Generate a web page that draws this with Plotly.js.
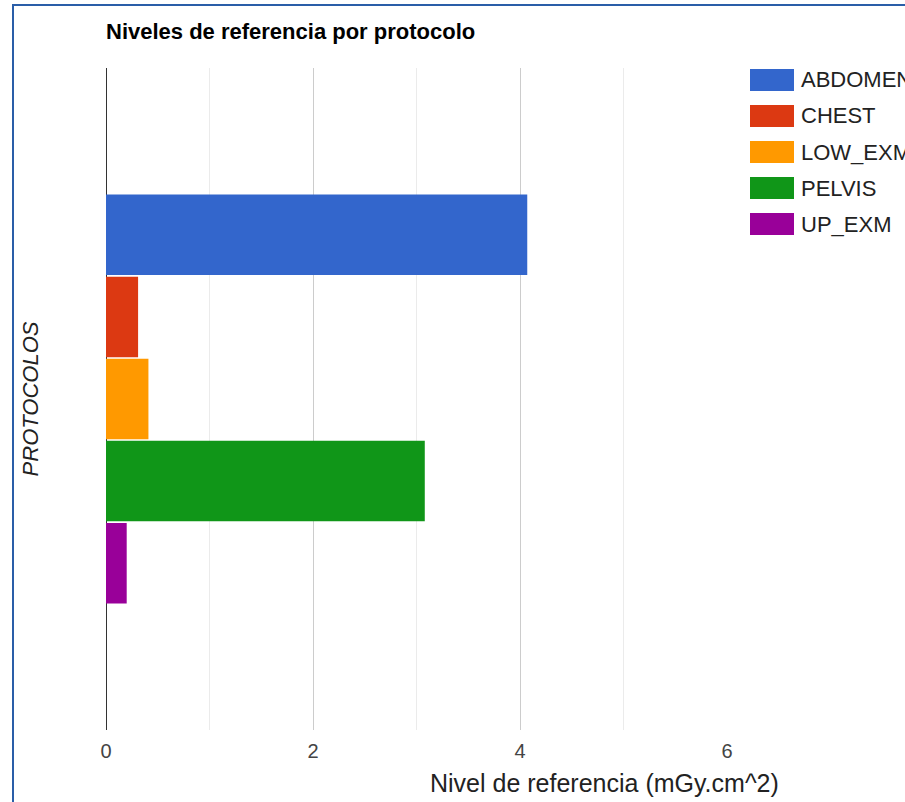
<!DOCTYPE html>
<html>
<head>
<meta charset="utf-8">
<script src="https://cdn.plot.ly/plotly-3.0.1.min.js"></script>
<style>
  html, body { margin: 0; padding: 0; background: #fff; overflow: hidden; }
  #chart { position: absolute; left: 0; top: 0; width: 905px; height: 802px; }
  #frame { position: absolute; left: 12px; top: 4px; width: 900px; height: 800px;
           border-left: 2px solid #2a5ea8; border-top: 2px solid #2a5ea8; pointer-events: none; }
</style>
</head>
<body>
<div id="chart"></div>
<div id="frame"></div>
<script>
// ---- data ----
const category = ['Protocolos'];
const seriesNames = ['ABDOMEN', 'CHEST', 'LOW_EXM', 'PELVIS', 'UP_EXM'];
const seriesValues = [4.07, 0.31, 0.41, 3.08, 0.20];
const seriesColors = ['#3366cc', '#dc3912', '#ff9900', '#109618', '#990099'];
const xTickValues = [0, 2, 4, 6];

const FONT = 'Arial, "Liberation Sans", sans-serif';

const traces = seriesNames.map((name, i) => ({
  type: 'bar',
  orientation: 'h',
  name: name,
  y: category,
  x: [seriesValues[i]],
  marker: { color: seriesColors[i], line: { width: 0 } },
  hoverinfo: 'x+name',
  showlegend: false
}));

// custom legend (large swatches like the original), built from the series arrays
const L = 106, R = 727, T = 68, B = 730;
const px = p => (p - L) / (R - L);
const py = p => (B - p) / (B - T);
const shapes = [];
const annotations = [];
seriesNames.forEach((name, i) => {
  const top = 69 + i * 36;
  shapes.push({
    type: 'rect', xref: 'paper', yref: 'paper',
    x0: px(750), x1: px(794), y0: py(top), y1: py(top + 22),
    fillcolor: seriesColors[i], line: { width: 0 }
  });
  annotations.push({
    xref: 'paper', yref: 'paper', x: px(799), y: py(top + 11),
    xanchor: 'left', yanchor: 'middle', showarrow: false,
    text: name, font: { family: FONT, size: 22, color: '#222222' }
  });
});
annotations.push({
  xref: 'paper', yref: 'paper', x: px(604), y: py(783),
  xanchor: 'center', yanchor: 'middle', showarrow: false,
  text: 'Nivel de referencia (mGy.cm^2)',
  font: { family: FONT, size: 25, color: '#222222' }
});

const layout = {
  width: 905, height: 802,
  margin: { l: L, r: 905 - R, t: T, b: 802 - B, pad: 0 },
  paper_bgcolor: '#ffffff', plot_bgcolor: '#ffffff',
  font: { family: FONT, color: '#444444' },
  title: {
    text: '<b>Niveles de referencia por protocolo</b>',
    xref: 'container', yref: 'container',
    x: 106 / 905, xanchor: 'left',
    y: 1 - 31 / 802, yanchor: 'middle',
    font: { family: FONT, size: 22, color: '#000000' }
  },
  barmode: 'group',
  bargap: 0.38,
  bargroupgap: 0.02,
  xaxis: {
    range: [0, 6],
    tickvals: xTickValues,
    ticktext: xTickValues.map(String),
    showgrid: true, gridcolor: '#cccccc', gridwidth: 1,
    minor: { dtick: 1, tick0: 0, showgrid: true, gridcolor: '#ebebeb', gridwidth: 1 },
    zeroline: true, zerolinecolor: '#333333', zerolinewidth: 1,
    showline: false, ticks: '',
    ticklabelstandoff: 7,
    tickfont: { family: FONT, size: 20, color: '#444444' },
    fixedrange: true
  },
  yaxis: {
    type: 'category',
    autorange: 'reversed',
    showticklabels: false, ticks: '', showgrid: false, zeroline: false, showline: false,
    automargin: false,
    title: { text: '<i>PROTOCOLOS</i>', standoff: 60, font: { family: FONT, size: 22, color: '#222222' } },
    fixedrange: true
  },
  shapes: shapes,
  annotations: annotations,
  showlegend: false
};

Plotly.newPlot('chart', traces, layout, { displayModeBar: false, staticPlot: true });
</script>
</body>
</html>
